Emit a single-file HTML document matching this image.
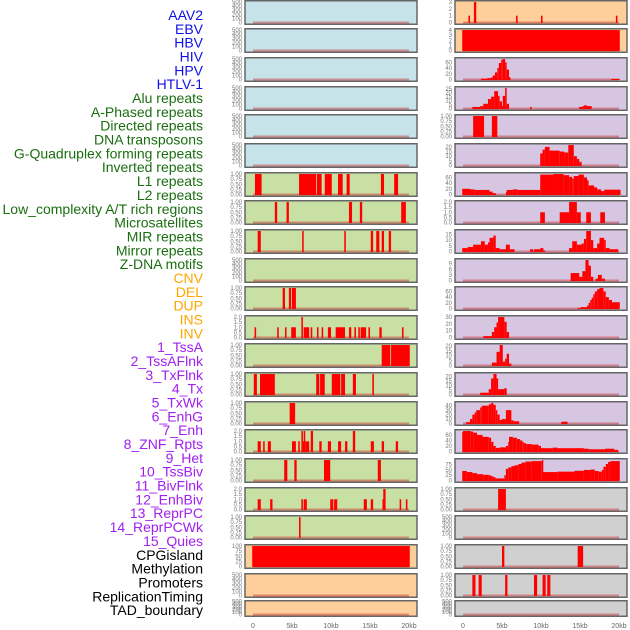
<!DOCTYPE html>
<html><head><meta charset="utf-8">
<style>
html,body{margin:0;padding:0;background:#fff;}
svg{display:block;}
</style></head>
<body>
<svg id="chart" width="630" height="630" xmlns="http://www.w3.org/2000/svg" font-family="Liberation Sans, sans-serif"></svg>
<script>
// ---- data ----
const trackLabels = ["AAV2","EBV","HBV","HIV","HPV","HTLV-1","Alu repeats","A-Phased repeats","Directed repeats","DNA transposons","G-Quadruplex forming repeats","Inverted repeats","L1 repeats","L2 repeats","Low_complexity A/T rich regions","Microsatellites","MIR repeats","Mirror repeats","Z-DNA motifs","CNV","DEL","DUP","INS","INV","1_TssA","2_TssAFlnk","3_TxFlnk","4_Tx","5_TxWk","6_EnhG","7_Enh","8_ZNF_Rpts","9_Het","10_TssBiv","11_BivFlnk","12_EnhBiv","13_ReprPC","14_ReprPCWk","15_Quies","CPGisland","Methylation","Promoters","ReplicationTiming","TAD_boundary"];
const labelGroups = [6,13,5,15,5];
const groupColors = ["#1010e8","#1a6e10","#ffa500","#a020f0","#000000"];
const xTickValues = [0,5,10,15,20];
const xTickLabels = ["0","5kb","10kb","15kb","20kb"];

const T500 = [0,100,200,300,400,500];
const T1 = [0,0.25,0.5,0.75,1];
const T2 = [0,0.5,1,1.5,2];
const leftTicks = [T500,T500,T500,T500,T500,T500,T1,T1,T1,T500,T1,T2,T1,T1,T1,T2,T1,T2,T1,[0,25,50,75,100],T500,T500];
const rightTicks = [[0,1,2,3],[0,1,2,3,4],[0,20,40,60],[0,5,10,15,20,25],T1,[0,5,10,15,20],[0,20,40,60],T2,[0,5,10,15],[0,3,6,9],[0,20,40,60],[0,10,20,30],[0,5,10,15,20],[0,5,10,15,20],[0,10,20,30,40],[0,20,40,60],[0,25,50,75],T1,T500,T1,T1,T500];

// bars: [startKb, endKb, value]
const leftBars = [
 [],[],[],[],[],[],
 [[0.25,1.1,1],[5.9,8.1,1],[8.2,8.8,1],[9.2,10.1,1],[10.9,11.5,1],[12.0,12.4,1],[16.4,16.8,1],[18.1,18.6,1]],
 [[2.8,3.1,1],[4.3,4.6,1],[12.3,12.7,1],[13.7,14.0,1],[19.0,19.6,1]],
 [[0.6,1.0,1],[6.3,6.5,1],[11.7,11.9,1],[15.1,15.4,1],[15.8,16.2,1],[16.5,16.8,1],[17.4,17.7,1]],
 [],
 [[3.8,4.1,1],[4.6,4.9,1],[5.0,5.5,1]],
 [[0.2,0.4,1],[3.1,3.3,1],[4.1,4.3,1],[4.9,5.5,1],[6.2,6.4,2],[6.5,7.2,1],[7.4,7.6,1],[8.2,8.4,1],[8.8,9.0,1],[9.6,10.0,1],[10.6,11.8,1],[12.3,12.6,1],[13.0,13.2,1],[13.5,13.7,1],[13.8,14.5,1],[14.8,15.0,1],[16.2,16.5,1],[19.1,19.3,1]],
 [[16.5,17.6,1],[17.7,20.1,1]],
 [[0.1,0.5,1],[0.9,2.8,1],[8.1,8.5,1],[8.6,9.2,1],[10.1,11.2,1],[11.3,11.8,1],[12.8,13.2,1],[15.3,15.5,1]],
 [[4.7,5.4,1]],
 [[0.6,1.0,1],[1.3,1.5,1],[1.9,2.3,1],[5.0,5.5,1],[5.8,6.0,1],[6.2,6.4,2],[6.4,6.5,1],[6.5,6.7,2],[6.7,7.2,1],[7.4,7.7,2],[8.5,8.8,1],[9.6,10.0,1],[10.9,11.3,1],[11.8,12.1,1],[12.8,13.1,2],[15.1,15.5,1],[16.5,16.8,1],[18.3,18.6,1]],
 [[4.0,4.4,1],[5.3,5.6,1],[9.1,9.9,1],[16.0,16.4,1]],
 [[0.6,1.0,1],[2.2,2.5,1],[6.2,6.4,1],[6.5,6.9,1],[9.9,10.3,1],[10.4,10.8,1],[14.2,14.6,1],[15.1,15.4,1],[16.6,16.7,1],[16.7,17.0,2],[18.8,19.0,1],[19.6,19.8,1]],
 [[5.9,6.1,1]],
 [[-0.1,20.1,100]],
 [],[]
];
const rightBars = [
 [[0.7,0.9,1],[1.4,1.7,3],[6.8,7.0,1],[10.0,10.2,1],[19.6,19.8,1]],
 [[-0.1,20.1,4]],
 [[2.3,3.1,3],[3.1,3.6,5],[3.6,3.8,7],[3.8,4.1,14],[4.1,4.4,25],[4.4,4.6,40],[4.6,4.9,58],[4.9,5.1,70],[5.1,5.4,72],[5.4,5.6,60],[5.6,5.9,35],[5.9,6.0,8],[19.0,20.1,2]],
 [[1.2,2.2,2],[2.2,2.6,3],[2.6,3.2,6],[3.2,3.6,12],[3.6,4.0,15],[4.0,4.5,22],[4.5,4.7,16],[4.7,5.0,9],[5.0,5.1,3],[5.1,5.4,16],[5.4,5.6,26],[5.6,5.9,6],[8.6,8.8,2],[14.9,15.3,2],[15.3,15.5,3],[15.5,15.9,4],[15.9,16.5,3]],
 [[1.3,2.7,1],[3.7,4.4,1]],
 [[9.9,10.2,13],[10.2,10.5,17],[10.5,11.1,20],[11.1,12.4,16],[12.4,13.0,15],[13.0,13.5,14],[13.5,14.2,22],[14.2,14.6,10],[14.6,14.9,7],[14.9,15.2,4]],
 [[-0.1,0.9,20],[0.9,1.5,18],[1.5,3.4,16],[3.4,3.8,10],[3.8,4.2,5],[5.5,5.6,8],[5.6,6.4,16],[6.4,7.0,18],[7.0,9.9,16],[9.9,11.6,70],[11.6,12.9,72],[12.9,13.6,68],[13.6,14.0,62],[14.0,14.2,56],[14.2,14.8,65],[14.8,15.5,70],[15.5,15.9,60],[15.9,16.1,50],[16.1,16.8,32],[16.8,17.2,25],[17.2,17.7,18],[17.7,18.1,12],[18.1,20.2,17]],
 [[9.9,10.5,1],[12.4,13.6,1],[13.6,14.6,2],[14.6,15.1,1],[15.8,16.4,1],[17.6,18.2,1]],
 [[-0.1,0.6,3],[0.6,1.3,4],[1.3,2.3,6],[2.3,2.8,9],[2.8,3.2,6],[3.2,3.4,8],[3.4,3.9,12],[3.9,4.2,14],[4.2,4.7,3],[4.7,5.5,2],[5.5,6.0,6],[6.0,6.6,2],[8.6,9.0,2],[9.1,9.9,2],[9.9,10.3,3],[10.3,10.5,1],[13.6,14.0,3],[14.0,14.6,9],[14.6,15.2,6],[15.2,15.5,7],[15.5,15.8,11],[15.8,16.4,18],[16.4,16.7,10],[16.7,17.2,3],[17.2,17.5,7],[17.5,18.1,12],[18.1,18.3,10],[18.3,18.8,3],[18.8,19.3,2],[19.3,19.9,2]],
 [[13.8,14.9,4],[14.9,15.3,2],[15.3,15.7,5],[15.7,16.1,11],[16.1,16.4,8],[16.4,16.7,2],[17.0,17.3,1],[17.3,17.8,3],[17.8,18.2,1]],
 [[14.7,15.1,2],[15.1,15.9,5],[15.9,16.1,10],[16.1,16.3,20],[16.3,16.5,30],[16.5,16.7,38],[16.7,16.9,50],[16.9,17.2,60],[17.2,17.5,68],[17.5,18.0,72],[18.0,18.3,60],[18.3,18.7,40],[18.7,19.1,30],[19.1,20.1,22]],
 [[2.6,3.7,2],[3.7,4.0,8],[4.0,4.3,15],[4.3,4.5,22],[4.5,5.3,30],[5.3,5.6,23],[5.6,5.9,8]],
 [[3.7,4.3,3],[4.3,4.7,14],[4.7,5.1,21],[5.1,5.4,4],[5.4,5.6,7],[5.6,5.9,12],[5.9,6.2,2]],
 [[2.2,3.3,2],[3.3,3.6,6],[3.6,3.9,18],[3.9,4.3,23],[4.3,4.5,18],[4.5,5.3,6],[5.3,5.6,7]],
 [[0.4,0.9,3],[0.9,1.2,10],[1.2,1.5,20],[1.5,1.7,25],[1.7,2.2,30],[2.2,2.4,36],[2.4,3.3,40],[3.3,3.6,43],[3.6,3.9,46],[3.9,4.2,42],[4.2,4.4,30],[4.4,4.7,20],[4.7,5.0,8],[5.0,5.5,10],[5.5,6.2,30],[6.2,6.5,7],[6.5,7.2,5],[12.6,13.4,4]],
 [[-0.1,0.0,70],[0.0,1.0,74],[1.0,1.3,72],[1.3,1.8,68],[1.8,2.5,60],[2.5,3.3,53],[3.3,3.6,50],[3.6,3.9,35],[3.9,4.2,20],[4.2,4.7,13],[4.7,5.5,15],[5.5,5.8,20],[5.8,5.9,35],[5.9,6.4,53],[6.4,6.9,50],[6.9,7.3,45],[7.3,7.6,40],[7.6,7.8,35],[7.8,8.1,30],[8.1,8.8,27],[8.8,9.7,25],[9.7,10.0,20],[10.0,11.5,12],[11.5,12.1,14],[12.1,15.5,12],[15.5,16.1,10],[16.1,18.2,8],[18.2,19.4,10],[19.4,19.9,6]],
 [[-0.1,0.5,45],[0.5,1.2,40],[1.2,1.8,35],[1.8,2.6,30],[2.6,3.3,27],[3.3,3.6,25],[3.6,3.9,20],[3.9,4.2,15],[4.2,5.3,10],[5.3,5.5,25],[5.5,5.8,55],[5.8,6.2,62],[6.2,6.6,68],[6.6,7.1,72],[7.1,7.5,78],[7.5,8.0,85],[8.0,8.8,90],[8.8,10.1,92],[10.1,10.2,97],[10.2,12.1,40],[12.1,14.3,42],[14.3,15.5,46],[15.5,16.4,50],[16.4,16.9,52],[16.9,17.4,45],[17.4,17.8,42],[17.8,18.0,50],[18.0,18.3,65],[18.3,18.6,78],[18.6,18.9,88],[18.9,20.1,92]],
 [[4.5,5.5,1]],
 [],
 [[5.0,5.3,1],[14.7,15.4,1]],
 [[1.2,1.6,1],[2.0,2.4,1],[5.4,5.7,1],[9.1,9.5,1],[10.2,10.6,1],[10.8,11.2,1]],
 []
];
const leftBg = ["blue","blue","blue","blue","blue","blue","green","green","green","green","green","green","green","green","green","green","green","green","green","peach","peach","peach"];
const rightBg = ["peach","peach","purple","purple","purple","purple","purple","purple","purple","purple","purple","purple","purple","purple","purple","purple","purple","gray","gray","gray","gray","gray"];

// ---- layout ----
const bgColors = {blue:"#c6e3ea",green:"#c8e0a4",peach:"#fecf9b",purple:"#d6c6e2",gray:"#d0d0d0"};
const rowTops = [0,28,57,86,114,143,172,200,229,258,286,315,343,372,401,429,458,487,515,544,573,600];
const cols = [{left:245,right:417,x0:253},{left:455,right:627,x0:463}];
const pxPerKb = 7.8;
const NS = "http://www.w3.org/2000/svg";
const svg = document.getElementById("chart");
function mk(tag, attrs, parent){const e=document.createElementNS(NS,tag);for(const k in attrs)e.setAttribute(k,attrs[k]);(parent||svg).appendChild(e);return e;}
function fmtTick(t, ticks){const mx=ticks[ticks.length-1];if(mx===1)return t.toFixed(2);if(mx===2)return t.toFixed(1);return String(t);}

// labels
let li=0;
labelGroups.forEach((n,g)=>{for(let k=0;k<n;k++){
  const t=mk("text",{x:203,y:15+li*13.84+5,"text-anchor":"end","font-size":"14",fill:groupColors[g]});
  t.textContent=trackLabels[li];
  
  
  li++;}});

function drawPanel(ci, r, bars, ticks, bg){
  const c=cols[ci];
  const top=rowTops[r], h=(r===21?17:25), bottom=top+h;
  const g=mk("g",{});
  
  
  mk("rect",{x:c.left,y:top+0.75,width:c.right-c.left,height:h-1.5,fill:bgColors[bg]},g);
  let mv=ticks[ticks.length-1];bars.forEach(b=>{if(b[2]>mv)mv=b[2];});
  const dom=mv*1.05;
  const ys=v=>bottom-2.5-v/dom*(h-3.5);
  const xs=kb=>c.x0+kb*pxPerKb;
  // baseline
  mk("rect",{x:xs(0),y:bottom-3.5,width:xs(20)-xs(0),height:2,fill:"rgba(200,40,40,0.45)"},g);
  bars.forEach((b,i)=>{
    let x1=Math.max(xs(b[0]),c.left+1), x2=Math.min(xs(b[1]),c.right-1);
    if(x2-x1<1.5)x2=x1+1.5;
    const y=Math.max(ys(b[2]),top+1);
    const rc=mk("rect",{x:x1,y:y,width:x2-x1,height:bottom-2-y,fill:"#ff0000"},g);
    
    
  });
  mk("rect",{x:c.left,y:top+0.75,width:c.right-c.left,height:h-1.5,fill:"none",stroke:"#666","stroke-width":1.5},g);
  ticks.forEach(t=>{
    const tx=mk("text",{x:c.left-3,y:ys(t)+2,"text-anchor":"end","font-size":"6",fill:"#777"},g);
    tx.textContent=fmtTick(t,ticks);
    
    
  });
}
for(let r=0;r<22;r++){
  drawPanel(0,r,leftBars[r],leftTicks[r],leftBg[r]);
  drawPanel(1,r,rightBars[r],rightTicks[r],rightBg[r]);
}
cols.forEach((c,ci)=>{
  xTickValues.forEach((v,i)=>{
    const tx=mk("text",{x:c.x0+v*pxPerKb,y:628,"text-anchor":"middle","font-size":"7",fill:"#666"});
    tx.textContent=xTickLabels[i];
    
    
  });
});
</script>
</body></html>
